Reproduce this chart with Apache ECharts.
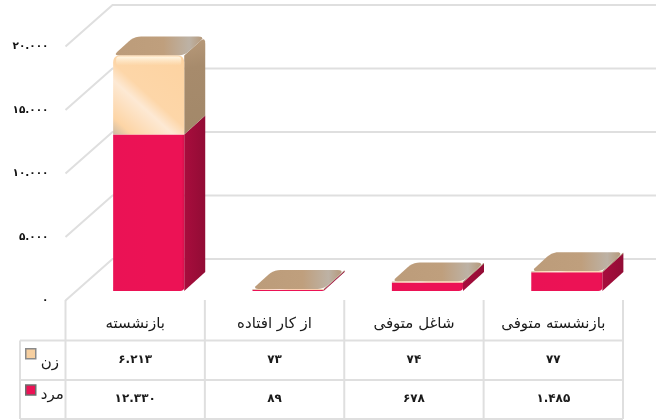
<!DOCTYPE html>
<html>
<head>
<meta charset="utf-8">
<style>
  html, body { margin: 0; padding: 0; background: #fff; overflow: hidden; }
  #main { width: 656px; height: 420px; }
</style>
<script src="https://cdn.jsdelivr.net/npm/echarts@6/dist/echarts.min.js"></script>
</head>
<body>
<div id="main"></div>
<script>
const categories = ['بازنشسته', 'از کار افتاده', 'شاغل متوفی', 'بازنشسته متوفی'];
const maleValues = [12330, 89, 678, 1485];
const femaleValues = [6213, 73, 74, 77];
const yTicks = [0, 5000, 10000, 15000, 20000];
const maleName = 'مرد';
const femaleName = 'زن';

const fontName = '"DejaVu Sans", sans-serif';
const lineColor = '#dfdfdf';
// fake 3d depth
const wallDx = 47, wallDy = 41.5;
const barDx = 13.5, barDy = 9.5;
const sideDx = 21, sideDy = 19;

function faNum(n) {
  return String(n).replace(/\B(?=(\d{3})+$)/g, '.').replace(/\d/g, d => '۰۱۲۳۴۵۶۷۸۹'[d]);
}

// polygon with rounded corners, radius per corner
function roundPoly(pts, radii) {
  const out = [];
  pts.forEach((p, i) => {
    const r = radii[i];
    if (!r) { out.push(p); return; }
    const a = pts[(i + pts.length - 1) % pts.length], b = pts[(i + 1) % pts.length];
    const la = Math.hypot(a[0] - p[0], a[1] - p[1]), lb = Math.hypot(b[0] - p[0], b[1] - p[1]);
    const ra = Math.min(r, la / 2), rb = Math.min(r, lb / 2);
    const s = [p[0] + (a[0] - p[0]) * ra / la, p[1] + (a[1] - p[1]) * ra / la];
    const e = [p[0] + (b[0] - p[0]) * rb / lb, p[1] + (b[1] - p[1]) * rb / lb];
    for (let t = 0; t <= 1.001; t += 0.2) {
      const u = 1 - t;
      out.push([u * u * s[0] + 2 * u * t * p[0] + t * t * e[0], u * u * s[1] + 2 * u * t * p[1] + t * t * e[1]]);
    }
  });
  return out;
}

function grad(x0, y0, x1, y1, stops) {
  return new echarts.graphic.LinearGradient(x0, y0, x1, y1, stops.map(s => ({ offset: s[0], color: s[1] })));
}

function barBox(api, i, from, to) {
  const w = api.size([1, 0])[0] * 0.51;
  const x = api.coord([i, 0])[0] + barDx - w / 2;
  const yb = api.coord([i, from])[1] - barDy;
  const yt = api.coord([i, from + to])[1] - barDy;
  return { x0: x, x1: x + w, yb: yb, yt: yt };
}

function renderMale(params, api) {
  const i = params.dataIndex;
  const b = barBox(api, i, 0, maleValues[i]);
  return {
    type: 'group',
    children: [
      {
        type: 'polygon',
        shape: { points: [[b.x1, b.yb], [b.x1 + sideDx, b.yb - sideDy], [b.x1 + sideDx, b.yt - sideDy], [b.x1, b.yt]] },
        style: { fill: grad(0, 0, 1, 0, [[0, '#a80d3d'], [1, '#920c35']]) }
      },
      {
        type: 'polygon',
        shape: { points: roundPoly([[b.x0, b.yt], [b.x1, b.yt], [b.x1, b.yb], [b.x0, b.yb]], [0, 0, 4, 0]) },
        style: { fill: grad(0, 0, 1, 0, [[0, '#ea1255'], [0.5, '#ec1255'], [0.96, '#ec1255'], [1, '#d8104c']]) }
      }
    ]
  };
}

function renderFemale(params, api) {
  const i = params.dataIndex;
  const b = barBox(api, i, maleValues[i], femaleValues[i]);
  const kids = [];
  const tall = b.yb - b.yt > 20;
  kids.push({
    type: 'polygon',
    shape: { points: roundPoly([[b.x1, b.yb], [b.x1 + sideDx, b.yb - sideDy], [b.x1 + sideDx, b.yt - sideDy], [b.x1, b.yt]], [0, 0, 7, 0]) },
    style: { fill: grad(0, 0, 1, 1, [[0, '#b89a7a'], [0.3, '#a78b6c'], [1, '#a28869']]) }
  });
  // top face
  kids.push({
    type: 'polygon',
    shape: { points: roundPoly([[b.x0, b.yt], [b.x0 + sideDx, b.yt - sideDy], [b.x1 + sideDx, b.yt - sideDy], [b.x1, b.yt]], [6, 7, 7, 6]) },
    style: { fill: grad(0, 0, 1, 0, [[0, '#bc9c7a'], [0.55, '#bf9f7d'], [0.85, '#bdb2a5'], [1, '#b69a7c']]) }
  });
  kids.push({
    type: 'polygon',
    shape: { points: roundPoly([[b.x0, b.yt], [b.x1, b.yt], [b.x1, b.yb], [b.x0, b.yb]], tall ? [7, 7, 0, 0] : [0, 0, 0, 0]) },
    style: {
      fill: grad(0, 1, 1, 0, [[0, '#cdbba4'], [0.12, '#fdd5a6'], [0.38, '#fde9d4'], [0.5, '#fdd6a8'], [1, '#fdd3a1']])
    }
  });
  if (tall) {
    kids.push({
      type: 'rect',
      shape: { x: b.x0 + 3, y: b.yt + 1, width: b.x1 - b.x0 - 6, height: 9, r: 3 },
      style: { fill: grad(0, 0, 0, 1, [[0, 'rgba(255,248,232,0.95)'], [1, 'rgba(255,240,215,0)']]) }
    });
  }
  return { type: 'group', children: kids };
}

// back wall lines, one item per tick
function renderWall(params, api) {
  const p = api.coord([0, yTicks[params.dataIndex]]);
  const x0 = p[0] - api.size([1, 0])[0] / 2;
  return {
    type: 'polyline',
    shape: { points: [[x0, p[1]], [x0 + wallDx, p[1] - wallDy], [x0 + 620, p[1] - wallDy]] },
    style: { fill: null, stroke: lineColor, lineWidth: 2 }
  };
}

const rowTop = 300, row1 = 340.5, row2 = 380, rowEnd = 419, tableLeft = 20;

// data table below the plot, one item per category
function renderTable(params, api) {
  const i = params.dataIndex;
  const c = api.coord([i, 0])[0];
  const w = api.size([1, 0])[0];
  const kids = [];
  const vline = x => ({
    type: 'line',
    shape: { x1: x, y1: rowTop, x2: x, y2: rowEnd },
    style: { stroke: lineColor, lineWidth: 2 }
  });
  kids.push(vline(c - w / 2));
  if (i === categories.length - 1) kids.push(vline(c + w / 2));
  const cell = (val, y) => ({
    type: 'text',
    style: { text: faNum(val), x: c, y: y, textAlign: 'center', textVerticalAlign: 'middle', fill: '#1a1a1a', font: 'bold 12px ' + fontName }
  });
  kids.push(cell(femaleValues[i], 360), cell(maleValues[i], 399));
  if (i === 0) {
    const right = c - w / 2 + w * categories.length;
    [row1, row2, rowEnd].forEach(y => kids.push({
      type: 'line',
      shape: { x1: tableLeft, y1: y, x2: right, y2: y },
      style: { stroke: lineColor, lineWidth: 2 }
    }));
    kids.push({
      type: 'line',
      shape: { x1: tableLeft, y1: row1, x2: tableLeft, y2: rowEnd },
      style: { stroke: lineColor, lineWidth: 2 }
    });
  }
  return { type: 'group', children: kids };
}

const chart = echarts.init(document.getElementById('main'), null, { renderer: 'canvas' });
chart.setOption({
  animation: false,
  backgroundColor: '#ffffff',
  grid: { left: 65.5, right: 33, top: 46.5, bottom: 119.5 },
  legend: {
    orient: 'vertical',
    left: 20,
    top: 343,
    padding: 5,
    itemWidth: 10,
    itemHeight: 10,
    itemGap: 14,
    formatter: n => (n === femaleName ? '{f|' + n + '}' : '{m|' + n + '}'),
    textStyle: {
      rich: {
        f: { fontFamily: fontName, fontSize: 15, color: '#1a1a1a', padding: [18, 0, 0, 0] },
        m: { fontFamily: fontName, fontSize: 15, color: '#1a1a1a', padding: [10, 0, 0, 0] }
      }
    },
    selectedMode: false,
    data: [
      { name: femaleName, icon: 'rect', itemStyle: { color: '#f6cfa0', borderColor: '#8a8a8a', borderWidth: 1.5 } },
      { name: maleName, icon: 'rect', itemStyle: { color: '#ec1255', borderColor: '#6e6e6e', borderWidth: 1.5 } }
    ]
  },
  xAxis: {
    type: 'category',
    data: categories,
    axisLine: { show: false },
    axisTick: { show: false },
    axisLabel: { interval: 0, margin: 16, color: '#1a1a1a', fontFamily: fontName, fontSize: 15 }
  },
  yAxis: {
    type: 'value',
    min: yTicks[0],
    max: yTicks[yTicks.length - 1],
    interval: 5000,
    axisLine: { show: false },
    axisTick: { show: false },
    splitLine: { show: false },
    axisLabel: { margin: 17, color: '#111', fontFamily: fontName, fontSize: 10.5, fontWeight: 'bold', formatter: v => faNum(v) }
  },
  series: [
    { type: 'custom', name: 'wall', silent: true, z: 1, renderItem: renderWall, data: yTicks },
    { type: 'custom', name: 'table', silent: true, z: 1, renderItem: renderTable, data: categories.map((c, i) => i) },
    { type: 'custom', name: maleName, z: 3, renderItem: renderMale, data: maleValues },
    { type: 'custom', name: femaleName, z: 4, renderItem: renderFemale, data: femaleValues }
  ]
});
</script>
</body>
</html>
